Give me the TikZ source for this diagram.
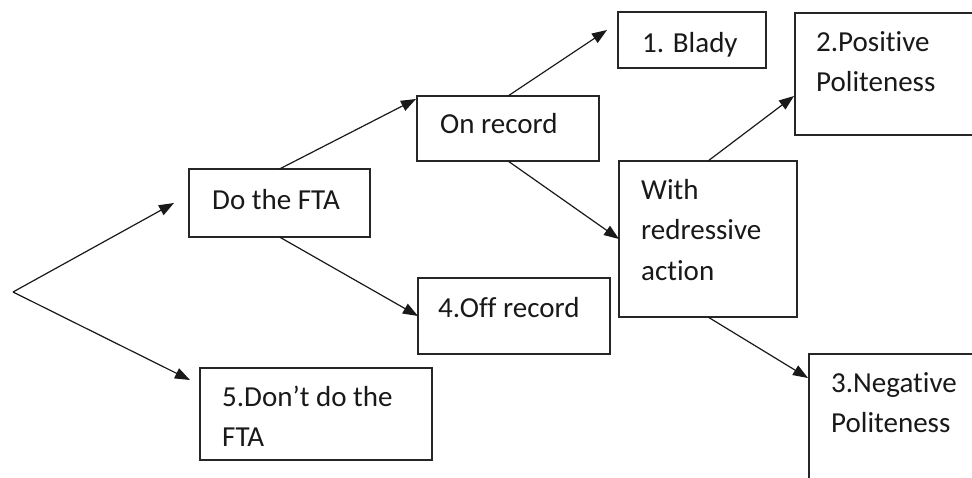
\documentclass[tikz,border=0pt]{standalone}
\usepackage{fontspec}
\setmainfont{Carlito}[Ligatures=NoCommon]
\usetikzlibrary{arrows.meta}
\begin{document}
\begin{tikzpicture}[x=1pt,y=-1pt,
  boxnode/.style={draw=black!85,line width=1.2pt,inner sep=0pt,outer sep=0pt,anchor=north west},
  txt/.style={inner sep=0pt,anchor=base west,font=\fontsize{29}{40.5}\selectfont,text=black!90},
  conn/.style={draw=black!90,line width=1.2pt,-{Triangle[length=15pt,width=11pt]}}]
\useasboundingbox (0,0) rectangle (972,477);
\clip (0,0) rectangle (972,477);
\fill[white] (0,0) rectangle (972,477);
% boxes
\node[boxnode,minimum width=181pt,minimum height=68pt] (dofta) at (189,169) {};
\node[boxnode,minimum width=232pt,minimum height=92pt] (dont) at (200,368) {};
\node[boxnode,minimum width=182pt,minimum height=65pt] (onrec) at (417,96) {};
\node[boxnode,minimum width=192pt,minimum height=76pt] (offrec) at (418,278) {};
\node[boxnode,minimum width=148pt,minimum height=56pt] (blady) at (618,12) {};
\node[boxnode,minimum width=178pt,minimum height=156pt] (redr) at (619,161) {};
\node[boxnode,minimum width=200pt,minimum height=122pt] (pos) at (795,13) {};
\node[boxnode,minimum width=200pt,minimum height=140pt] (neg) at (809,354) {};
% texts
\node[txt] (dofta-t) at (212,209) {Do the FTA};
\node[txt] (dont-t) at (222,406) {\vtop{\hbox{5.Don’t do the}\hbox{FTA}}};
\node[txt] (onrec-t) at (440,133) {On record};
\node[txt] (offrec-t) at (438,317) {4.Off record};
\node[txt] (blady-t) at (642,52) {1. Blady};
\node[txt] (redr-t) at (641,199) {\vtop{\hbox{With}\hbox{redressive}\hbox{action}}};
\node[txt] (pos-t) at (816,51) {\vtop{\hbox{2.Positive}\hbox{Politeness}}};
\node[txt] (neg-t) at (831,392) {\vtop{\hbox{3.Negative}\hbox{Politeness}}};
% connector end points
\coordinate (o) at (13,292);
\coordinate (dofta-in) at ([xshift=-15pt]dofta.west);
\coordinate (dont-in) at ([xshift=-10pt,yshift=-12pt]dont.north west);
\coordinate (onrec-in) at ([xshift=-1pt,yshift=-3pt]onrec.north west);
\coordinate (blady-in) at ([xshift=-11pt,yshift=-18pt]blady.north west);
\coordinate (pos-in) at ([xshift=-1pt,yshift=-83pt]pos.north west);
\coordinate (neg-in) at ([xshift=-1pt,yshift=-24pt]neg.north west);
% connectors
\draw[conn] (o) -- (dofta-in);
\draw[conn] (o) -- (dont-in);
\draw[conn] (dofta.north) -- (onrec-in);
\draw[conn] (dofta.south) -- (offrec.west);
\draw[conn] (onrec.north) -- (blady-in);
\draw[conn] (onrec.south) -- (redr.west);
\draw[conn] (redr.north) -- (pos-in);
\draw[conn] (redr.south) -- (neg-in);
\end{tikzpicture}
\end{document}
